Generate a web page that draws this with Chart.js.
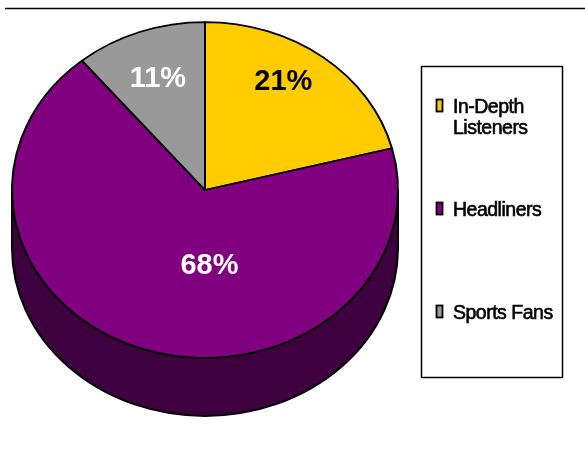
<!DOCTYPE html>
<html>
<head>
<meta charset="utf-8">
<title>Listener segments</title>
<script src="https://cdn.jsdelivr.net/npm/chart.js@4/dist/chart.umd.min.js"></script>
<style>
  html, body { margin: 0; padding: 0; background: #ffffff; }
  #wrap { width: 585px; height: 449px; }
</style>
</head>
<body>
<div id="wrap"><canvas id="pie" width="585" height="449"></canvas></div>
<script>
// Audience segments and their share of listeners (percent)
const categories = ['In-Depth Listeners', 'Headliners', 'Sports Fans'];
const shares = [21, 68, 11];
const sliceColors = ['#FFCC00', '#800080', '#999999'];
const wallColors = ['#7f6600', '#3f003f', '#4c4c4c'];
const labelColors = ['#000000', '#ffffff', '#ffffff'];

// Perspective of the tilted disc
const TILT = 0.87;      // vertical squash of the top face
const DEPTH = 58;       // thickness of the disc in px
const FONT = "'Liberation Sans', Arial, Helvetica, sans-serif";

// Where each percentage sits on its slice: fraction of radius and angle shift (deg)
const labelPlacement = [
  { f: 0.77, turn: -6 },
  { f: 0.44, turn: -21 },
  { f: 0.72, turn: 0 }
];

function discGeometry(chart) {
  const arc = chart.getDatasetMeta(0).data[0];
  return { cx: arc.x, cy: arc.y, r: arc.outerRadius, ry: arc.outerRadius * TILT };
}

// Draws the front wall of the disc, then squashes the slices into an ellipse
const tiltedDisc = {
  id: 'tiltedDisc',
  beforeDatasetsDraw(chart) {
    const ctx = chart.ctx;
    const { cx, cy, r, ry } = discGeometry(chart);
    const arcs = chart.getDatasetMeta(0).data;
    arcs.forEach((arc, i) => {
      const a1 = Math.max(arc.startAngle, 0);
      const a2 = Math.min(arc.endAngle, Math.PI);
      if (a2 <= a1) return;
      ctx.save();
      ctx.beginPath();
      ctx.ellipse(cx, cy, r, ry, 0, a1, a2, false);
      ctx.ellipse(cx, cy + DEPTH, r, ry, 0, a2, a1, true);
      ctx.closePath();
      ctx.fillStyle = wallColors[i];
      ctx.fill();
      ctx.lineWidth = 2;
      ctx.strokeStyle = '#000';
      ctx.stroke();
      ctx.restore();
    });
    ctx.save();
    ctx.translate(cx, cy);
    ctx.scale(1, TILT);
    ctx.translate(-cx, -cy);
  },
  afterDatasetsDraw(chart) {
    const ctx = chart.ctx;
    ctx.restore();
    // percentage labels on the top face
    const { cx, cy, r, ry } = discGeometry(chart);
    const arcs = chart.getDatasetMeta(0).data;
    const size = 29;
    ctx.save();
    ctx.font = 'bold ' + size + 'px ' + FONT;
    ctx.textAlign = 'center';
    ctx.textBaseline = 'alphabetic';
    arcs.forEach((arc, i) => {
      const p = labelPlacement[i];
      const a = (arc.startAngle + arc.endAngle) / 2 + p.turn * Math.PI / 180;
      const x = cx + p.f * r * Math.cos(a);
      const y = cy + p.f * ry * Math.sin(a);
      ctx.fillStyle = labelColors[i];
      ctx.fillText(shares[i] + '%', x, y + size * 0.358);
    });
    ctx.restore();
  }
};

// Rule across the top and boxed legend on the right
const frame = {
  id: 'frame',
  afterDraw(chart) {
    const ctx = chart.ctx;
    ctx.save();
    ctx.strokeStyle = '#000';
    ctx.lineWidth = 1.5;
    ctx.beginPath();
    ctx.moveTo(5, 8.5);
    ctx.lineTo(585, 8.5);
    ctx.stroke();

    ctx.strokeRect(421.5, 66.5, 141, 311);

    const ds = chart.data.datasets[0];
    ctx.font = '19.5px ' + FONT;
    ctx.letterSpacing = '-0.5px';
    ctx.textAlign = 'left';
    ctx.textBaseline = 'alphabetic';
    const textX = 453, maxW = 106, lineH = 21;
    chart.data.labels.forEach((label, i) => {
      const base = 113 + i * 103;
      // wrap words inside the legend box
      const lines = [];
      let cur = '';
      label.split(' ').forEach(w => {
        const t = cur ? cur + ' ' + w : w;
        if (cur && ctx.measureText(t).width > maxW) { lines.push(cur); cur = w; }
        else cur = t;
      });
      lines.push(cur);
      ctx.fillStyle = ds.backgroundColor[i];
      ctx.fillRect(436.5, base - 13.5, 6, 12);
      ctx.lineWidth = 1.8;
      ctx.strokeRect(436.5, base - 13.5, 6, 12);
      ctx.fillStyle = '#000';
      ctx.lineWidth = 0.6;
      lines.forEach((ln, k) => {
        ctx.fillText(ln, textX, base + k * lineH);
        ctx.strokeText(ln, textX, base + k * lineH);
      });
    });
    ctx.restore();
  }
};

new Chart(document.getElementById('pie'), {
  type: 'pie',
  data: {
    labels: categories,
    datasets: [{
      data: shares,
      backgroundColor: sliceColors,
      borderColor: '#000000',
      borderWidth: 2,
      hoverOffset: 0
    }]
  },
  options: {
    responsive: false,
    animation: false,
    radius: 193,
    layout: { padding: { left: 0, right: 175, top: 0, bottom: 69 } },
    events: [],
    plugins: {
      legend: { display: false },
      tooltip: { enabled: false }
    }
  },
  plugins: [tiltedDisc, frame]
});
</script>
</body>
</html>
